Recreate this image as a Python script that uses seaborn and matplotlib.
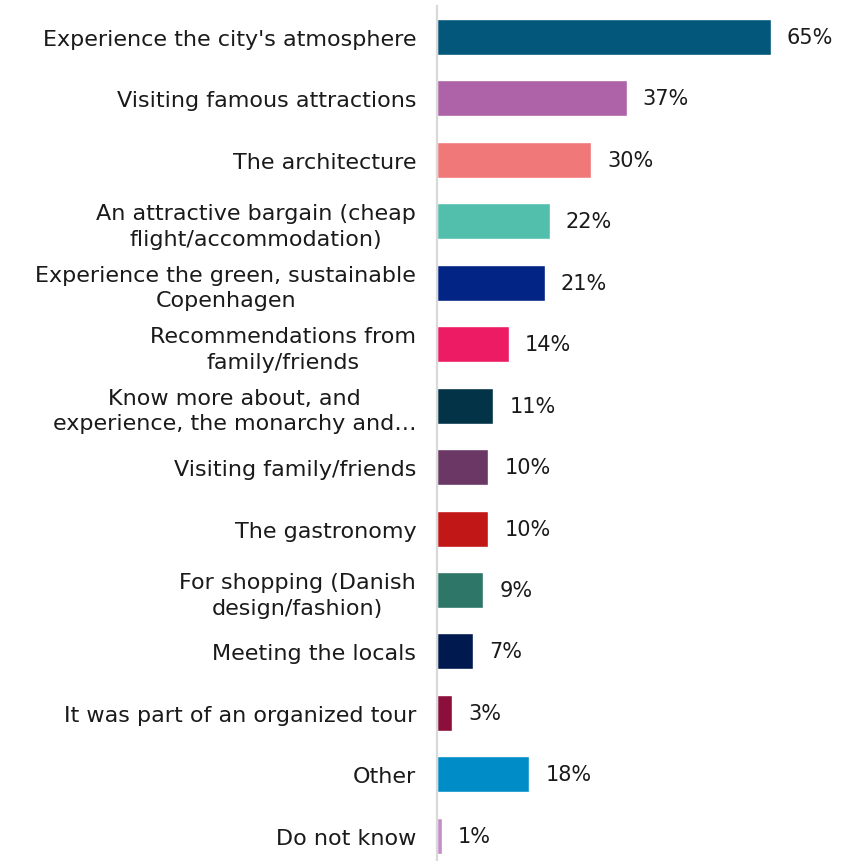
import matplotlib
matplotlib.use("Agg")
import matplotlib.pyplot as plt
import seaborn as sns
import pandas as pd

categories = [
    "Experience the city's atmosphere",
    "Visiting famous attractions",
    "The architecture",
    "An attractive bargain (cheap\nflight/accommodation)",
    "Experience the green, sustainable\nCopenhagen",
    "Recommendations from\nfamily/friends",
    "Know more about, and\nexperience, the monarchy and\u2026",
    "Visiting family/friends",
    "The gastronomy",
    "For shopping (Danish\ndesign/fashion)",
    "Meeting the locals",
    "It was part of an organized tour",
    "Other",
    "Do not know",
]
values = [65, 37, 30, 22, 21, 14, 11, 10, 10, 9, 7, 3, 18, 1]
colors = [
    "#03577A", "#AE63A8", "#F07878", "#52BFAC", "#022484", "#ED1B64", "#023347",
    "#6B3865", "#C21717", "#2D7668", "#00194F", "#8C0E3A", "#008CC6", "#C38DC7",
]

sns.set_style("white")
plt.rcParams["font.family"] = ["DejaVu Sans"]

df = pd.DataFrame({"reason": categories, "share": values})

fig = plt.figure(figsize=(8.46, 8.62), dpi=100)
ax = fig.add_axes([437 / 846, 0, 409 / 846, 855 / 862])

sns.barplot(data=df, x="share", y="reason", hue="reason", palette=colors,
            orient="h", width=0.586, legend=False, ax=ax, saturation=1)

ax.set_xlim(0, 79.7)
ax.set_ylim(13.41, -0.504)
ax.set_xlabel("")
ax.set_ylabel("")
ax.set_xticks([])

for s in ["top", "right", "bottom"]:
    ax.spines[s].set_visible(False)
ax.spines["left"].set_color("#d9d9d9")
ax.spines["left"].set_linewidth(1.6)

ax.tick_params(axis="y", length=0, pad=15, labelsize=16, labelcolor="#1a1a1a")
for lbl in ax.get_yticklabels():
    lbl.set_multialignment("center")
    lbl.set_linespacing(1.35)

for i, v in enumerate(values):
    ax.annotate(f"{v}%", xy=(v, i), xytext=(11.5, 0), textcoords="offset points",
                va="center", ha="left", fontsize=15, color="#1a1a1a")

fig.savefig("out.png", dpi=100)
